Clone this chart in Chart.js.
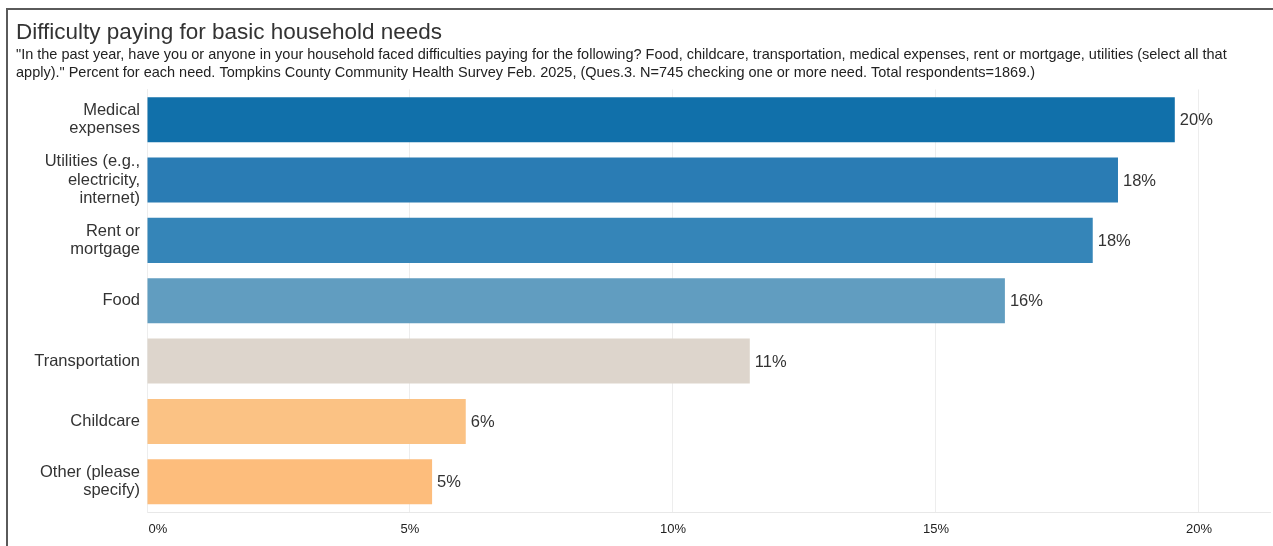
<!DOCTYPE html>
<html>
<head>
<meta charset="utf-8">
<script src="https://cdn.jsdelivr.net/npm/chart.js@4"></script>
<style>
  html, body { margin: 0; padding: 0; background: #fff; }
  #frame {
    position: absolute;
    left: 6px;
    top: 8px;
    width: 1265px;
    height: 536px;
    border-left: 2px solid #5a5a5a;
    border-top: 2px solid #5a5a5a;
  }
</style>
</head>
<body>
<div id="frame"><canvas id="needsChart" width="1265" height="536"></canvas></div>
<script>
const needs = [
    ['Medical', 'expenses'],
    ['Utilities (e.g.,', 'electricity,', 'internet)'],
    ['Rent or', 'mortgage'],
    'Food',
    'Transportation',
    'Childcare',
    ['Other (please', 'specify)']
];
const percents = [19.54, 18.46, 17.98, 16.31, 11.46, 6.06, 5.42];
const xTicks = [0, 5, 10, 15, 20];

const barColors = ['#1170aa', '#2a7cb4', '#3585b8', '#619dc0', '#ddd5cc', '#fbc284', '#fdbd7c'];
const fontFamily = '"Liberation Sans", Arial, sans-serif';

// writes the rounded percent just past the end of each bar
const barLabels = {
    id: 'barLabels',
    afterDatasetsDraw(chart) {
        const ctx = chart.ctx;
        const meta = chart.getDatasetMeta(0);
        ctx.save();
        ctx.font = '16.5px ' + fontFamily;
        ctx.fillStyle = '#333';
        ctx.textAlign = 'left';
        ctx.textBaseline = 'middle';
        meta.data.forEach((bar, i) => {
            ctx.fillText(Math.round(percents[i]) + '%', bar.x + 5, bar.y + 1);
        });
        ctx.restore();
    }
};

const ctx = document.getElementById('needsChart').getContext('2d');

const needsChart = new Chart(ctx, {
    type: 'bar',
    data: {
        labels: needs,
        datasets: [{
            data: percents,
            backgroundColor: barColors,
            borderWidth: 0,
            barPercentage: 0.746,
            categoryPercentage: 1
        }]
    },
    options: {
        indexAxis: 'y',
        responsive: false,
        animation: false,
        layout: {
            padding: { left: 8, right: 3, top: 0, bottom: 0 }
        },
        scales: {
            x: {
                min: 0,
                max: 21.35,
                afterBuildTicks: function(scale) {
                    scale.ticks = xTicks.map(v => ({ value: v }));
                },
                afterFit: function(scale) {
                    scale.height = 34;
                },
                grid: {
                    color: '#ededed',
                    drawTicks: false
                },
                border: {
                    color: '#e8e8e8'
                },
                ticks: {
                    color: '#222',
                    padding: 10,
                    maxRotation: 0,
                    font: { family: fontFamily, size: 13 },
                    callback: function(value) {
                        // keep the zero label inside the plot, the rest centred on their ticks
                        return value === 0 ? '\u2007\u2007\u20070%' : value + '%';
                    }
                }
            },
            y: {
                afterFit: function(scale) {
                    scale.width = 131;
                },
                grid: {
                    display: false,
                    drawTicks: false
                },
                border: {
                    color: '#ededed'
                },
                ticks: {
                    color: '#333',
                    padding: 7,
                    font: { family: fontFamily, size: 16.5, lineHeight: 1.1 }
                }
            }
        },
        plugins: {
            legend: {
                display: false
            },
            tooltip: {
                enabled: false
            },
            title: {
                display: true,
                text: 'Difficulty paying for basic household needs',
                align: 'start',
                color: '#333',
                font: { family: fontFamily, size: 22.5, weight: 'normal', lineHeight: 1.2 },
                padding: { top: 9, bottom: 0 }
            },
            subtitle: {
                display: true,
                text: [
                    '"In the past year, have you or anyone in your household faced difficulties paying for the following? Food, childcare, transportation, medical expenses, rent or mortgage, utilities (select all that',
                    'apply)." Percent for each need. Tompkins County Community Health Survey Feb. 2025, (Ques.3. N=745 checking one or more need. Total respondents=1869.)'
                ],
                align: 'start',
                color: '#222',
                font: { family: fontFamily, size: 14.5, lineHeight: 1.24 },
                padding: { top: 0, bottom: 7.5 }
            }
        }
    },
    plugins: [barLabels]
});
</script>
</body>
</html>
